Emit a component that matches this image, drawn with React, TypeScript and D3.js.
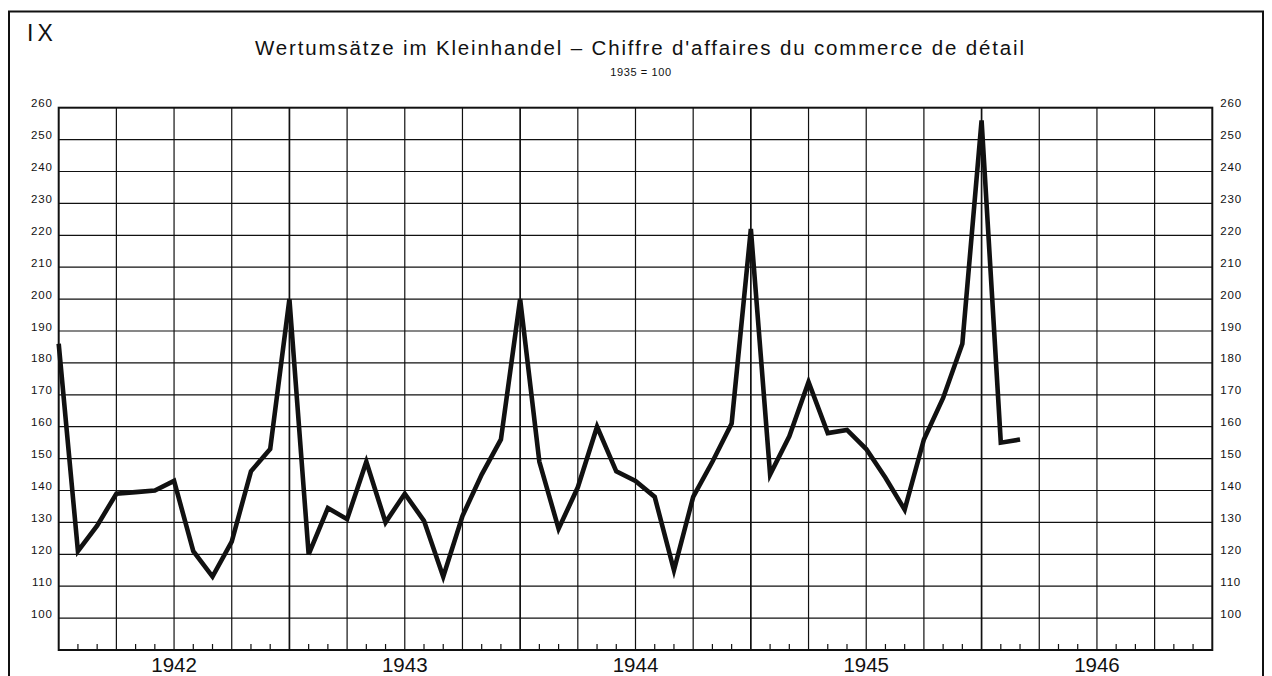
import React from "react";
import * as d3 from "d3";

// monthly index, 1935 = 100, first point is December 1941
const values = [
  186, 121, 129, 139, 139.5, 140, 143, 121, 113, 124, 146, 153,
  200, 120, 134.5, 131, 149, 130, 139, 130.5, 113, 132, 145, 156,
  200, 149, 128, 141, 160, 146, 143, 138, 115, 138, 149, 161,
  222, 145, 157, 174, 158, 159, 153, 144, 134, 156, 169, 186,
  256, 155, 156,
];
const yearLabels = ["1942", "1943", "1944", "1945", "1946"];
const yTicks = [100, 110, 120, 130, 140, 150, 160, 170, 180, 190, 200, 210, 220, 230, 240, 250, 260];
const plateNo = "IX";
const title = "Wertumsätze im Kleinhandel – Chiffre d'affaires du commerce de détail";
const subtitle = "1935 = 100";

const W = 1272;
const H = 676;
const font = "'Liberation Sans', Arial, Helvetica, sans-serif";
const ink = "#111";

export default function App() {
  const x = d3.scaleLinear().domain([0, 60]).range([58.7, 1212.3]);
  const y = d3.scaleLinear().domain([90, 260]).range([650, 107.7]);

  const line = d3
    .line<number>()
    .x((d, i) => x(i))
    .y((d) => y(d));

  const months = d3.range(1, 60);
  const quarterLines = d3.range(3, 60, 3);

  return (
    <svg
      width={W}
      height={H}
      style={{ position: "absolute", left: 0, top: 0, background: "#fff" }}
      fontFamily={font}
    >
      {/* outer frame */}
      <rect x={9} y={11.5} width={1254} height={700} fill="none" stroke={ink} strokeWidth={2} />

      <text x={27} y={41} fontSize={23} fill={ink} letterSpacing={4}>
        {plateNo}
      </text>
      <text x={639.5} y={55} fontSize={20.5} fill={ink} textAnchor="middle" textLength={769} lengthAdjust="spacing">
        {title}
      </text>
      <text x={641} y={76} fontSize={11} fill={ink} textAnchor="middle" letterSpacing={0.6}>
        {subtitle}
      </text>

      {/* horizontal grid */}
      {yTicks.slice(0, -1).map((t) => (
        <line key={"h" + t} x1={x(0)} x2={x(60)} y1={y(t)} y2={y(t)} stroke={ink} strokeWidth={1.2} />
      ))}

      {/* vertical grid every 3 months, a bit heavier at december */}
      {quarterLines.map((m) => (
        <line
          key={"v" + m}
          x1={x(m)}
          x2={x(m)}
          y1={y(260)}
          y2={y(90)}
          stroke={ink}
          strokeWidth={m % 12 === 0 ? 1.7 : 1.2}
        />
      ))}

      {/* monthly ticks on the base line */}
      {months
        .filter((m) => m % 3 !== 0)
        .map((m) => (
          <line key={"t" + m} x1={x(m)} x2={x(m)} y1={y(90)} y2={y(90) - 6} stroke={ink} strokeWidth={1.2} />
        ))}

      {/* plot border */}
      <rect
        x={x(0)}
        y={y(260)}
        width={x(60) - x(0)}
        height={y(90) - y(260)}
        fill="none"
        stroke={ink}
        strokeWidth={2}
      />

      {/* y labels both sides */}
      {yTicks.map((t) => (
        <g key={"l" + t} fontSize={11.5} fill={ink} letterSpacing={0.8}>
          <text x={x(0) - 6} y={y(t) - 0.5} textAnchor="end">
            {t}
          </text>
          <text x={x(60) + 8} y={y(t) - 0.5}>
            {t}
          </text>
        </g>
      ))}

      {/* year labels */}
      {yearLabels.map((yr, i) => (
        <text key={yr} x={x(6 + 12 * i)} y={672} fontSize={20.5} fill={ink} textAnchor="middle">
          {yr}
        </text>
      ))}

      <path d={line(values) || ""} fill="none" stroke={ink} strokeWidth={4.6} strokeLinejoin="miter" />
    </svg>
  );
}
